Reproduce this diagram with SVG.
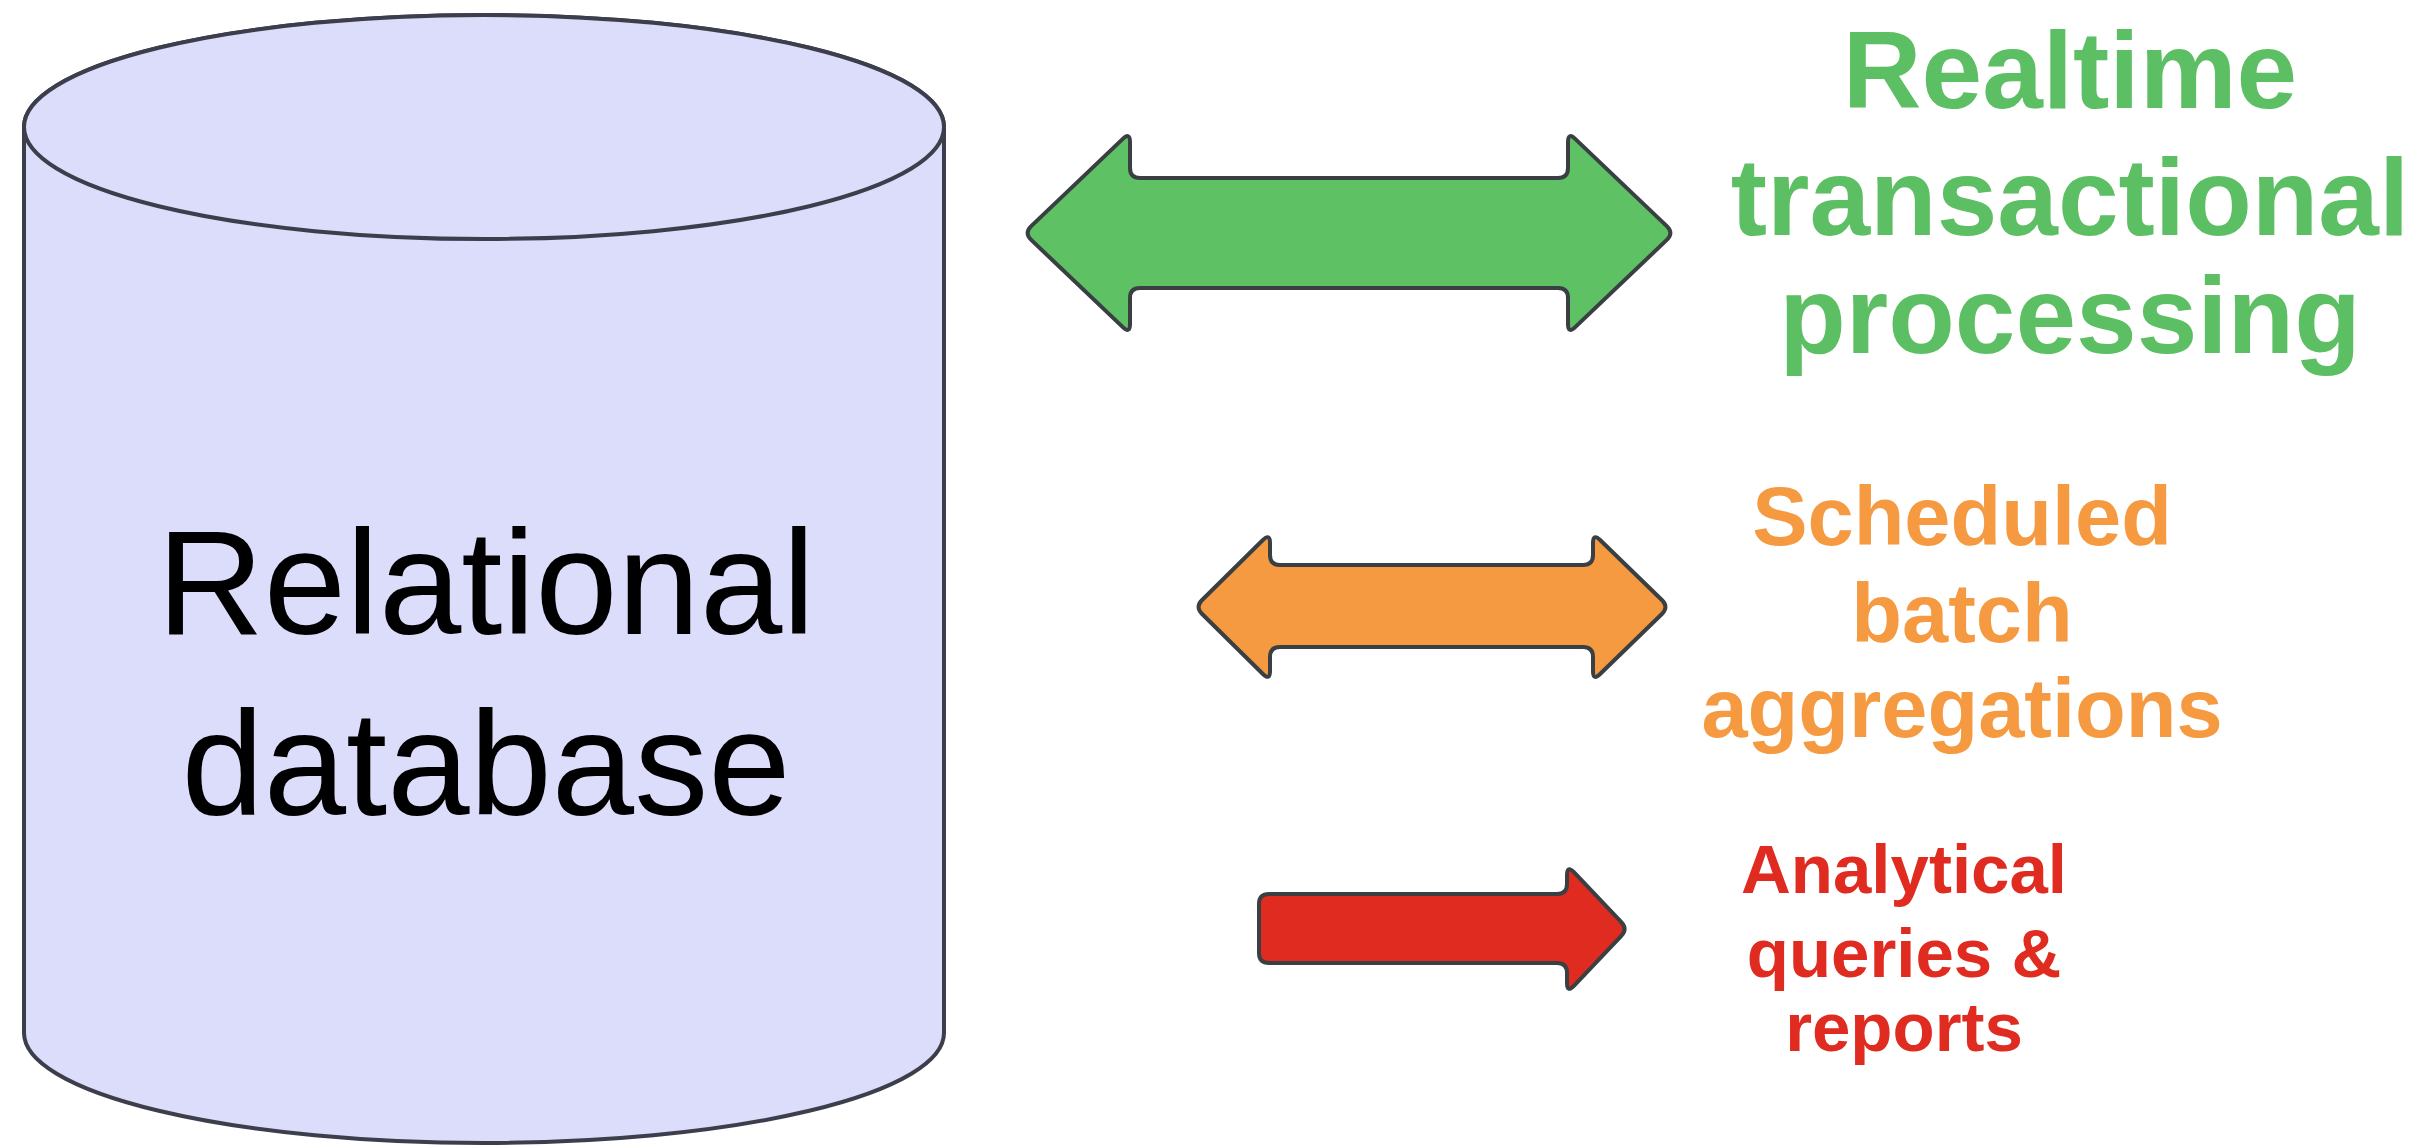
<svg xmlns="http://www.w3.org/2000/svg" width="2432" height="1146" viewBox="0 0 2432 1146">
<style>
.db{fill:#dcdcfb;stroke:#3c3e4c;stroke-width:4}
.arr{stroke:#393f42;stroke-width:4;stroke-linejoin:round}
.t{font-family:"Liberation Sans",Arial,sans-serif;text-anchor:middle}
.b{font-weight:bold}
</style>
<rect width="2432" height="1146" fill="#ffffff"/>
<g id="database">
<path class="db" d="M 24,127 L 24,1033 A 460,110 0 0 0 944,1033 L 944,127 A 460,112 0 0 0 24,127 Z"/>
<ellipse class="db" cx="484" cy="127" rx="460" ry="112"/>
<text class="t" x="486" y="634" font-size="148" fill="#000">Relational</text>
<text class="t" x="486" y="815" font-size="148" fill="#000">database</text>
</g>
<g id="connectors">
<path id="arrow-realtime" class="arr" fill="#5ec265" d="M 1031.2,226.1 L 1122.8,138.9 Q 1130,132 1130,142 L 1130,168 Q 1130,178 1140,178 L 1558,178 Q 1568,178 1568,168 L 1568,142 Q 1568,132 1575.2,138.9 L 1666.8,226.1 Q 1674,233 1666.8,239.9 L 1575.2,327.1 Q 1568,334 1568,324 L 1568,298 Q 1568,288 1558,288 L 1140,288 Q 1130,288 1130,298 L 1130,324 Q 1130,334 1122.8,327.1 L 1031.2,239.9 Q 1024,233 1031.2,226.1 Z"/>
<path id="arrow-batch" class="arr" fill="#f59a40" d="M 1202.1,600 L 1262.9,540 Q 1270,533 1270,543 L 1270,555 Q 1270,565 1280,565 L 1583,565 Q 1593,565 1593,555 L 1593,543 Q 1593,533 1600.1,540 L 1661.9,600 Q 1669,607 1661.9,614 L 1600.1,674 Q 1593,681 1593,671 L 1593,657 Q 1593,647 1583,647 L 1280,647 Q 1270,647 1270,657 L 1270,671 Q 1270,681 1262.9,674 L 1202.1,614 Q 1195,607 1202.1,600 Z"/>
<path id="arrow-analytical" class="arr" fill="#e02b20" d="M 1269,894 L 1557,894 Q 1567,894 1567,884 L 1567,875 Q 1567,865 1573.9,872.2 L 1621.1,921.8 Q 1628,929 1621.1,936.2 L 1573.9,985.8 Q 1567,993 1567,983 L 1567,973 Q 1567,963 1557,963 L 1269,963 Q 1259,963 1259,953 L 1259,904 Q 1259,894 1269,894 Z"/>
</g>
<g id="realtime">
<text class="t b" x="2070" y="108" font-size="109" fill="#5dbf63">Realtime</text>
<text class="t b" x="2070" y="235" font-size="109" fill="#5dbf63">transactional</text>
<text class="t b" x="2070" y="353" font-size="109" fill="#5dbf63">processing</text>
</g>
<g id="batch">
<text class="t b" x="1962" y="545" font-size="83" fill="#f59a40">Scheduled</text>
<text class="t b" x="1962" y="642" font-size="83" fill="#f59a40">batch</text>
<text class="t b" x="1962" y="737" font-size="83" fill="#f59a40">aggregations</text>
</g>
<g id="analytical">
<text class="t b" x="1904" y="893" font-size="69" fill="#e02b20">Analytical</text>
<text class="t b" x="1904" y="977" font-size="69" fill="#e02b20">queries &amp;</text>
<text class="t b" x="1904" y="1051" font-size="69" fill="#e02b20">reports</text>
</g>
</svg>
